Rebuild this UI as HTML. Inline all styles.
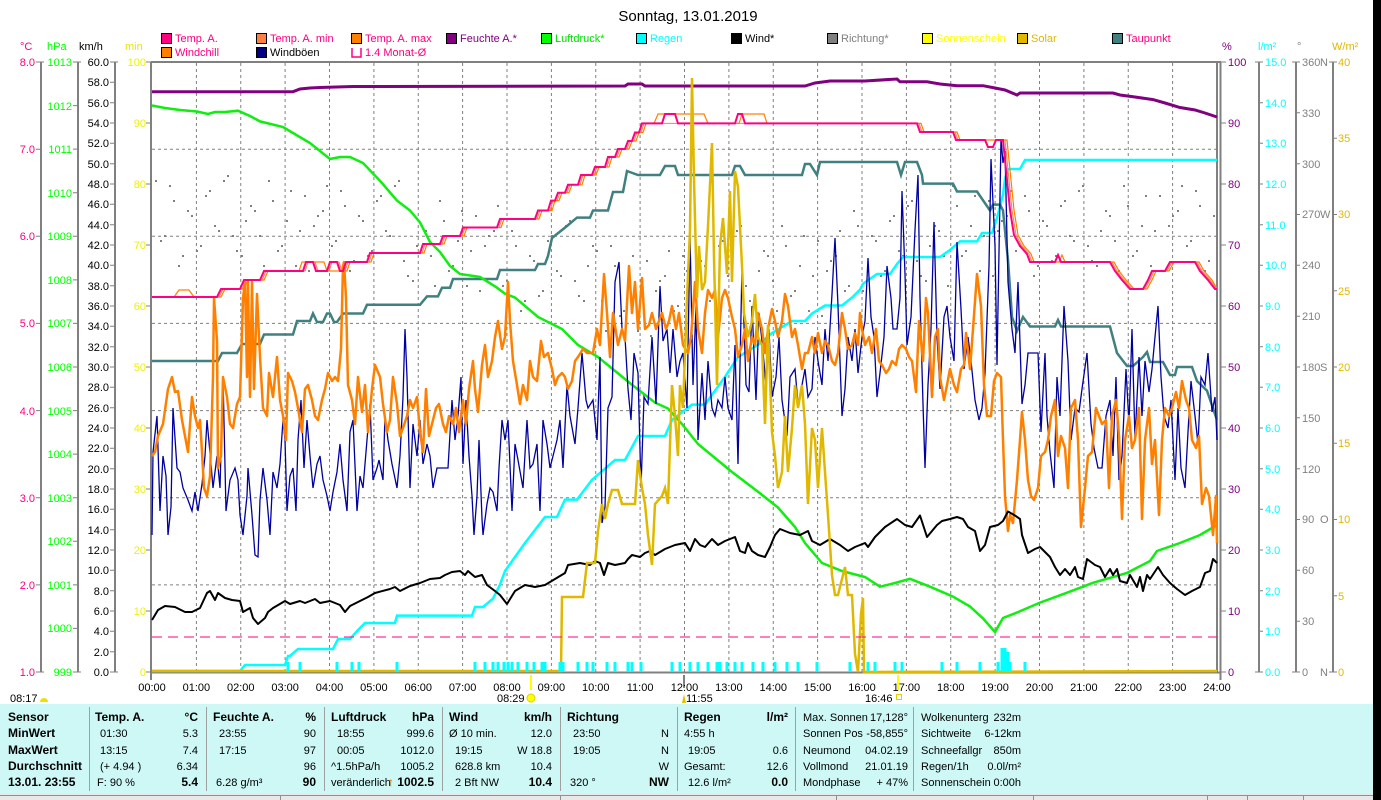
<!DOCTYPE html>
<html><head><meta charset="utf-8"><style>
html,body{margin:0;padding:0;background:#fff;overflow:hidden;}
svg{display:block;font-family:"Liberation Sans",Arial,sans-serif;font-size:11px;}
.b{font-weight:bold;font-size:12px;}
</style></head><body>
<svg width="1381" height="800" viewBox="0 0 1381 800" xmlns="http://www.w3.org/2000/svg">
<rect x="0" y="0" width="1381" height="800" fill="#fff"/>
<rect x="1373" y="0" width="8" height="800" fill="#000"/>

<!-- Title -->
<text x="688" y="21" font-size="15" text-anchor="middle">Sonntag, 13.01.2019</text>

<!-- Legend -->
<g stroke="#000" stroke-width="1">
<rect x="161.5" y="33.5" width="10" height="10" fill="#ff0080"/>
<rect x="256.5" y="33.5" width="10" height="10" fill="#ff8040"/>
<rect x="351.5" y="33.5" width="10" height="10" fill="#ff8000"/>
<rect x="446.5" y="33.5" width="10" height="10" fill="#800080"/>
<rect x="541.5" y="33.5" width="10" height="10" fill="#00ff00"/>
<rect x="636.5" y="33.5" width="10" height="10" fill="#00ffff"/>
<rect x="731.5" y="33.5" width="10" height="10" fill="#000000"/>
<rect x="827.5" y="33.5" width="10" height="10" fill="#808080"/>
<rect x="922.5" y="33.5" width="10" height="10" fill="#ffff00"/>
<rect x="1017.5" y="33.5" width="10" height="10" fill="#e0b800"/>
<rect x="1112.5" y="33.5" width="10" height="10" fill="#408080"/>
<rect x="161.5" y="47.5" width="10" height="10" fill="#ff8000"/>
<rect x="256.5" y="47.5" width="10" height="10" fill="#000080"/>
</g>
<path d="M352,48 V57 H361 V48" fill="none" stroke="#ff0080" stroke-width="1.5"/>
<g font-size="11">
<text x="175" y="42" fill="#ff0080">Temp. A.</text>
<text x="270" y="42" fill="#ff0080">Temp. A. min</text>
<text x="365" y="42" fill="#ff0080">Temp. A. max</text>
<text x="460" y="42" fill="#800080">Feuchte A.*</text>
<text x="555" y="42" fill="#00e000">Luftdruck*</text>
<text x="650" y="42" fill="#00ffff">Regen</text>
<text x="745" y="42" fill="#000">Wind*</text>
<text x="841" y="42" fill="#808080">Richtung*</text>
<text x="936" y="42" fill="#ffff00">Sonnenschein</text>
<text x="1031" y="42" fill="#e0b800">Solar</text>
<text x="1126" y="42" fill="#ff0080">Taupunkt</text>
<text x="175" y="56" fill="#ff0080">Windchill</text>
<text x="270" y="56" fill="#000">Windböen</text>
<text x="365" y="56" fill="#ff0080">1.4 Monat-Ø</text>
</g>

<!-- axis unit headers -->
<text x="20" y="50" fill="#ff0080">°C</text>
<text x="47" y="50" fill="#00ff00">hPa</text>
<text x="79" y="50" fill="#000">km/h</text>
<text x="125" y="50" fill="#e8e800">min</text>
<text x="1222" y="50" fill="#800080">%</text>
<text x="1258" y="50" fill="#00ffff">l/m²</text>
<text x="1297" y="50" fill="#808080">°</text>
<text x="1332" y="50" fill="#e0b800">W/m²</text>

<!-- Axis lines -->
<g stroke="#808080" stroke-width="2" fill="none">
<path d="M41,62 V672 M78,62 V672 M115,62 V672 M1259,62 V672 M1296,62 V672 M1333,62 V672"/>
<path d="M151,62 V680 M151,62 H1221 M1217,62 V672 M1220.5,62 V680 M151,672.5 H1221"/>
</g>

<!-- Ticks -->
<g stroke="#808080" stroke-width="1">
<path d="M36,672H44 M36,584.9H41 M36,497.7H41 M36,410.6H41 M36,323.4H41 M36,236.3H41 M36,149.2H41 M36,62H44"/>
<path d="M73,672H81 M73,628.4H78 M73,584.9H78 M73,541.3H78 M73,497.7H78 M73,454.1H78 M73,410.6H78 M73,367H78 M73,323.4H78 M73,279.9H78 M73,236.3H78 M73,192.7H78 M73,149.1H78 M73,105.6H78 M73,62H81"/>
<path d="M110,672H118 M110,651.7H115 M110,631.3H115 M110,611H115 M110,590.7H115 M110,570.3H115 M110,550H115 M110,529.7H115 M110,509.3H115 M110,489H115 M110,468.7H115 M110,448.3H115 M110,428H115 M110,407.7H115 M110,387.3H115 M110,367H115 M110,346.7H115 M110,326.3H115 M110,306H115 M110,285.7H115 M110,265.3H115 M110,245H115 M110,224.7H115 M110,204.3H115 M110,184H115 M110,163.7H115 M110,143.3H115 M110,123H115 M110,102.7H115 M110,82.3H115 M110,62H118"/>
<path d="M146,672H151 M146,611H151 M146,550H151 M146,489H151 M146,428H151 M146,367H151 M146,306H151 M146,245H151 M146,184H151 M146,123H151 M146,62H151"/>
<path d="M1221,672H1226 M1221,611H1226 M1221,550H1226 M1221,489H1226 M1221,428H1226 M1221,367H1226 M1221,306H1226 M1221,245H1226 M1221,184H1226 M1221,123H1226 M1221,62H1226"/>
<path d="M1255,672H1263 M1259,631.3H1263 M1259,590.7H1263 M1259,550H1263 M1259,509.3H1263 M1259,468.7H1263 M1259,428H1263 M1259,387.3H1263 M1259,346.7H1263 M1259,306H1263 M1259,265.3H1263 M1259,224.7H1263 M1259,184H1263 M1259,143.3H1263 M1259,102.7H1263 M1255,62H1263"/>
<path d="M1292,672H1300 M1296,621.2H1300 M1296,570.3H1300 M1296,519.5H1300 M1296,468.7H1300 M1296,417.8H1300 M1296,367H1300 M1296,316.2H1300 M1296,265.3H1300 M1296,214.5H1300 M1296,163.7H1300 M1296,112.8H1300 M1292,62H1300"/>
<path d="M1329,672H1337 M1333,595.75H1337 M1333,519.5H1337 M1333,443.25H1337 M1333,367H1337 M1333,290.75H1337 M1333,214.5H1337 M1333,138.25H1337 M1329,62H1337"/>
</g>

<!-- Left labels -->
<g fill="#ff0080" text-anchor="end">
<text x="35" y="676">1.0</text><text x="35" y="589">2.0</text><text x="35" y="502">3.0</text><text x="35" y="415">4.0</text><text x="35" y="327">5.0</text><text x="35" y="240">6.0</text><text x="35" y="153">7.0</text><text x="35" y="66">8.0</text>
</g>
<g fill="#00ff00" text-anchor="end">
<text x="72" y="676">999</text><text x="72" y="632">1000</text><text x="72" y="589">1001</text><text x="72" y="545">1002</text><text x="72" y="502">1003</text><text x="72" y="458">1004</text><text x="72" y="415">1005</text><text x="72" y="371">1006</text><text x="72" y="327">1007</text><text x="72" y="284">1008</text><text x="72" y="240">1009</text><text x="72" y="197">1010</text><text x="72" y="153">1011</text><text x="72" y="110">1012</text><text x="72" y="66">1013</text>
</g>
<g fill="#000" text-anchor="end">
<text x="109" y="676">0.0</text><text x="109" y="656">2.0</text><text x="109" y="635">4.0</text><text x="109" y="615">6.0</text><text x="109" y="595">8.0</text><text x="109" y="574">10.0</text><text x="109" y="554">12.0</text><text x="109" y="534">14.0</text><text x="109" y="513">16.0</text><text x="109" y="493">18.0</text><text x="109" y="473">20.0</text><text x="109" y="452">22.0</text><text x="109" y="432">24.0</text><text x="109" y="412">26.0</text><text x="109" y="391">28.0</text><text x="109" y="371">30.0</text><text x="109" y="351">32.0</text><text x="109" y="330">34.0</text><text x="109" y="310">36.0</text><text x="109" y="290">38.0</text><text x="109" y="269">40.0</text><text x="109" y="249">42.0</text><text x="109" y="229">44.0</text><text x="109" y="208">46.0</text><text x="109" y="188">48.0</text><text x="109" y="168">50.0</text><text x="109" y="147">52.0</text><text x="109" y="127">54.0</text><text x="109" y="107">56.0</text><text x="109" y="86">58.0</text><text x="109" y="66">60.0</text>
</g>
<g fill="#f0f000" text-anchor="end">
<text x="146" y="676">0</text><text x="146" y="615">10</text><text x="146" y="554">20</text><text x="146" y="493">30</text><text x="146" y="432">40</text><text x="146" y="371">50</text><text x="146" y="310">60</text><text x="146" y="249">70</text><text x="146" y="188">80</text><text x="146" y="127">90</text><text x="146" y="66">100</text>
</g>

<!-- Right labels -->
<g fill="#800080">
<text x="1228" y="676">0</text><text x="1228" y="615">10</text><text x="1228" y="554">20</text><text x="1228" y="493">30</text><text x="1228" y="432">40</text><text x="1228" y="371">50</text><text x="1228" y="310">60</text><text x="1228" y="249">70</text><text x="1228" y="188">80</text><text x="1228" y="127">90</text><text x="1228" y="66">100</text>
</g>
<g fill="#00ffff">
<text x="1265" y="676">0.0</text><text x="1265" y="635">1.0</text><text x="1265" y="595">2.0</text><text x="1265" y="554">3.0</text><text x="1265" y="513">4.0</text><text x="1265" y="473">5.0</text><text x="1265" y="432">6.0</text><text x="1265" y="391">7.0</text><text x="1265" y="351">8.0</text><text x="1265" y="310">9.0</text><text x="1265" y="269">10.0</text><text x="1265" y="229">11.0</text><text x="1265" y="188">12.0</text><text x="1265" y="147">13.0</text><text x="1265" y="107">14.0</text><text x="1265" y="66">15.0</text>
</g>
<g fill="#808080">
<text x="1302" y="676">0</text><text x="1302" y="625">30</text><text x="1302" y="574">60</text><text x="1302" y="523">90</text><text x="1302" y="473">120</text><text x="1302" y="422">150</text><text x="1302" y="371">180</text><text x="1302" y="320">210</text><text x="1302" y="269">240</text><text x="1302" y="218">270</text><text x="1302" y="168">300</text><text x="1302" y="117">330</text><text x="1302" y="66">360</text>
<text x="1320" y="676">N</text><text x="1320" y="523">O</text><text x="1320" y="371">S</text><text x="1320" y="218">W</text><text x="1320" y="66">N</text>
</g>
<g fill="#e0b800">
<text x="1338" y="676">0</text><text x="1338" y="600">5</text><text x="1338" y="523">10</text><text x="1338" y="447">15</text><text x="1338" y="371">20</text><text x="1338" y="295">25</text><text x="1338" y="218">30</text><text x="1338" y="142">35</text><text x="1338" y="66">40</text>
</g>

<!-- Grid -->
<g stroke="#808080" stroke-width="1" stroke-dasharray="3,3" fill="none">
<path d="M196.4,63V672 M240.75,63V672 M285.1,63V672 M329.5,63V672 M373.9,63V672 M418.25,63V672 M462.6,63V672 M507,63V672 M551.4,63V672 M595.75,63V672 M640.1,63V672 M684.5,63V672 M728.9,63V672 M773.25,63V672 M817.6,63V672 M862,63V672 M906.4,63V672 M950.75,63V672 M995.1,63V672 M1039.5,63V672 M1083.9,63V672 M1128.25,63V672 M1172.6,63V672"/>
<path d="M152,149.2H1217 M152,236.3H1217 M152,323.4H1217 M152,410.6H1217 M152,497.7H1217 M152,584.9H1217"/>
</g>

<!-- Direction dots -->
<g fill="#808080">
<rect x="155" y="180" width="2" height="2"/><rect x="164" y="235" width="2" height="2"/><rect x="173" y="200" width="2" height="2"/><rect x="182" y="255" width="2" height="2"/><rect x="191" y="215" width="2" height="2"/><rect x="200" y="245" width="2" height="2"/><rect x="209" y="190" width="2" height="2"/><rect x="218" y="230" width="2" height="2"/><rect x="227" y="175" width="2" height="2"/><rect x="236" y="250" width="2" height="2"/><rect x="245" y="220" width="2" height="2"/><rect x="254" y="210" width="2" height="2"/><rect x="263" y="265" width="2" height="2"/><rect x="272" y="200" width="2" height="2"/><rect x="281" y="245" width="2" height="2"/><rect x="290" y="190" width="2" height="2"/><rect x="299" y="230" width="2" height="2"/><rect x="308" y="270" width="2" height="2"/><rect x="317" y="215" width="2" height="2"/><rect x="326" y="185" width="2" height="2"/><rect x="335" y="240" width="2" height="2"/><rect x="344" y="205" width="2" height="2"/><rect x="353" y="260" width="2" height="2"/><rect x="362" y="220" width="2" height="2"/><rect x="371" y="250" width="2" height="2"/><rect x="380" y="195" width="2" height="2"/><rect x="389" y="235" width="2" height="2"/><rect x="398" y="180" width="2" height="2"/><rect x="407" y="275" width="2" height="2"/><rect x="416" y="245" width="2" height="2"/><rect x="425" y="230" width="2" height="2"/><rect x="434" y="285" width="2" height="2"/><rect x="443" y="220" width="2" height="2"/><rect x="452" y="265" width="2" height="2"/><rect x="461" y="210" width="2" height="2"/><rect x="470" y="250" width="2" height="2"/><rect x="479" y="290" width="2" height="2"/><rect x="488" y="235" width="2" height="2"/><rect x="497" y="205" width="2" height="2"/><rect x="506" y="280" width="2" height="2"/><rect x="515" y="245" width="2" height="2"/><rect x="524" y="300" width="2" height="2"/><rect x="533" y="260" width="2" height="2"/><rect x="542" y="290" width="2" height="2"/><rect x="551" y="235" width="2" height="2"/><rect x="560" y="275" width="2" height="2"/><rect x="569" y="220" width="2" height="2"/><rect x="578" y="295" width="2" height="2"/><rect x="587" y="265" width="2" height="2"/><rect x="596" y="250" width="2" height="2"/><rect x="605" y="330" width="2" height="2"/><rect x="614" y="265" width="2" height="2"/><rect x="623" y="310" width="2" height="2"/><rect x="632" y="255" width="2" height="2"/><rect x="641" y="295" width="2" height="2"/><rect x="650" y="335" width="2" height="2"/><rect x="659" y="280" width="2" height="2"/><rect x="668" y="250" width="2" height="2"/><rect x="677" y="305" width="2" height="2"/><rect x="686" y="270" width="2" height="2"/><rect x="695" y="325" width="2" height="2"/><rect x="704" y="265" width="2" height="2"/><rect x="713" y="295" width="2" height="2"/><rect x="722" y="240" width="2" height="2"/><rect x="731" y="280" width="2" height="2"/><rect x="740" y="225" width="2" height="2"/><rect x="749" y="300" width="2" height="2"/><rect x="758" y="270" width="2" height="2"/><rect x="767" y="255" width="2" height="2"/><rect x="776" y="310" width="2" height="2"/><rect x="785" y="245" width="2" height="2"/><rect x="794" y="290" width="2" height="2"/><rect x="803" y="235" width="2" height="2"/><rect x="812" y="275" width="2" height="2"/><rect x="821" y="315" width="2" height="2"/><rect x="830" y="260" width="2" height="2"/><rect x="839" y="230" width="2" height="2"/><rect x="848" y="285" width="2" height="2"/><rect x="857" y="225" width="2" height="2"/><rect x="866" y="280" width="2" height="2"/><rect x="875" y="240" width="2" height="2"/><rect x="884" y="270" width="2" height="2"/><rect x="893" y="215" width="2" height="2"/><rect x="902" y="255" width="2" height="2"/><rect x="911" y="200" width="2" height="2"/><rect x="920" y="275" width="2" height="2"/><rect x="929" y="245" width="2" height="2"/><rect x="938" y="230" width="2" height="2"/><rect x="947" y="285" width="2" height="2"/><rect x="956" y="205" width="2" height="2"/><rect x="965" y="250" width="2" height="2"/><rect x="974" y="195" width="2" height="2"/><rect x="983" y="235" width="2" height="2"/><rect x="992" y="275" width="2" height="2"/><rect x="1001" y="220" width="2" height="2"/><rect x="1010" y="190" width="2" height="2"/><rect x="1019" y="245" width="2" height="2"/><rect x="1028" y="210" width="2" height="2"/><rect x="1037" y="265" width="2" height="2"/><rect x="1046" y="225" width="2" height="2"/><rect x="1055" y="255" width="2" height="2"/><rect x="1064" y="200" width="2" height="2"/><rect x="1073" y="240" width="2" height="2"/><rect x="1082" y="185" width="2" height="2"/><rect x="1091" y="260" width="2" height="2"/><rect x="1100" y="230" width="2" height="2"/><rect x="1109" y="215" width="2" height="2"/><rect x="1118" y="270" width="2" height="2"/><rect x="1127" y="205" width="2" height="2"/><rect x="1136" y="250" width="2" height="2"/><rect x="1145" y="195" width="2" height="2"/><rect x="1154" y="230" width="2" height="2"/><rect x="1163" y="270" width="2" height="2"/><rect x="1172" y="215" width="2" height="2"/><rect x="1181" y="185" width="2" height="2"/><rect x="1190" y="240" width="2" height="2"/><rect x="1199" y="205" width="2" height="2"/><rect x="1208" y="260" width="2" height="2"/>
<rect x="160" y="240" width="2" height="2"/><rect x="169" y="185" width="2" height="2"/><rect x="178" y="265" width="2" height="2"/><rect x="187" y="210" width="2" height="2"/><rect x="196" y="250" width="2" height="2"/><rect x="205" y="195" width="2" height="2"/><rect x="214" y="225" width="2" height="2"/><rect x="223" y="180" width="2" height="2"/><rect x="232" y="235" width="2" height="2"/><rect x="241" y="255" width="2" height="2"/><rect x="250" y="205" width="2" height="2"/><rect x="259" y="235" width="2" height="2"/><rect x="268" y="180" width="2" height="2"/><rect x="277" y="250" width="2" height="2"/><rect x="286" y="220" width="2" height="2"/><rect x="295" y="265" width="2" height="2"/><rect x="304" y="195" width="2" height="2"/><rect x="313" y="225" width="2" height="2"/><rect x="322" y="210" width="2" height="2"/><rect x="331" y="245" width="2" height="2"/><rect x="340" y="190" width="2" height="2"/><rect x="349" y="270" width="2" height="2"/><rect x="358" y="215" width="2" height="2"/><rect x="367" y="255" width="2" height="2"/><rect x="376" y="200" width="2" height="2"/><rect x="385" y="230" width="2" height="2"/><rect x="394" y="185" width="2" height="2"/><rect x="403" y="260" width="2" height="2"/><rect x="412" y="280" width="2" height="2"/><rect x="421" y="225" width="2" height="2"/><rect x="430" y="255" width="2" height="2"/><rect x="439" y="200" width="2" height="2"/><rect x="448" y="270" width="2" height="2"/><rect x="457" y="240" width="2" height="2"/><rect x="466" y="285" width="2" height="2"/><rect x="475" y="215" width="2" height="2"/><rect x="484" y="245" width="2" height="2"/><rect x="493" y="230" width="2" height="2"/><rect x="502" y="285" width="2" height="2"/><rect x="511" y="230" width="2" height="2"/><rect x="520" y="310" width="2" height="2"/><rect x="529" y="255" width="2" height="2"/><rect x="538" y="295" width="2" height="2"/><rect x="547" y="240" width="2" height="2"/><rect x="556" y="270" width="2" height="2"/><rect x="565" y="225" width="2" height="2"/><rect x="574" y="280" width="2" height="2"/><rect x="583" y="300" width="2" height="2"/><rect x="592" y="245" width="2" height="2"/><rect x="601" y="300" width="2" height="2"/><rect x="610" y="245" width="2" height="2"/><rect x="619" y="315" width="2" height="2"/><rect x="628" y="285" width="2" height="2"/><rect x="637" y="330" width="2" height="2"/><rect x="646" y="260" width="2" height="2"/><rect x="655" y="290" width="2" height="2"/><rect x="664" y="275" width="2" height="2"/><rect x="673" y="310" width="2" height="2"/><rect x="682" y="255" width="2" height="2"/><rect x="691" y="335" width="2" height="2"/><rect x="700" y="260" width="2" height="2"/><rect x="709" y="300" width="2" height="2"/><rect x="718" y="245" width="2" height="2"/><rect x="727" y="275" width="2" height="2"/><rect x="736" y="230" width="2" height="2"/><rect x="745" y="285" width="2" height="2"/><rect x="754" y="305" width="2" height="2"/><rect x="763" y="250" width="2" height="2"/><rect x="772" y="280" width="2" height="2"/><rect x="781" y="225" width="2" height="2"/><rect x="790" y="295" width="2" height="2"/><rect x="799" y="265" width="2" height="2"/><rect x="808" y="310" width="2" height="2"/><rect x="817" y="240" width="2" height="2"/><rect x="826" y="270" width="2" height="2"/><rect x="835" y="255" width="2" height="2"/><rect x="844" y="290" width="2" height="2"/><rect x="853" y="210" width="2" height="2"/><rect x="862" y="290" width="2" height="2"/><rect x="871" y="235" width="2" height="2"/><rect x="880" y="275" width="2" height="2"/><rect x="889" y="220" width="2" height="2"/><rect x="898" y="250" width="2" height="2"/><rect x="907" y="205" width="2" height="2"/><rect x="916" y="260" width="2" height="2"/><rect x="925" y="280" width="2" height="2"/><rect x="934" y="225" width="2" height="2"/><rect x="943" y="255" width="2" height="2"/><rect x="952" y="185" width="2" height="2"/><rect x="961" y="255" width="2" height="2"/><rect x="970" y="225" width="2" height="2"/><rect x="979" y="270" width="2" height="2"/><rect x="988" y="200" width="2" height="2"/><rect x="997" y="230" width="2" height="2"/><rect x="1006" y="215" width="2" height="2"/><rect x="1015" y="250" width="2" height="2"/><rect x="1024" y="195" width="2" height="2"/><rect x="1033" y="275" width="2" height="2"/><rect x="1042" y="220" width="2" height="2"/><rect x="1051" y="260" width="2" height="2"/><rect x="1060" y="205" width="2" height="2"/><rect x="1069" y="235" width="2" height="2"/><rect x="1078" y="190" width="2" height="2"/><rect x="1087" y="245" width="2" height="2"/><rect x="1096" y="265" width="2" height="2"/><rect x="1105" y="210" width="2" height="2"/><rect x="1114" y="240" width="2" height="2"/><rect x="1123" y="185" width="2" height="2"/><rect x="1132" y="255" width="2" height="2"/><rect x="1141" y="225" width="2" height="2"/><rect x="1150" y="265" width="2" height="2"/><rect x="1159" y="195" width="2" height="2"/><rect x="1168" y="225" width="2" height="2"/><rect x="1177" y="210" width="2" height="2"/><rect x="1186" y="245" width="2" height="2"/><rect x="1195" y="190" width="2" height="2"/><rect x="1204" y="270" width="2" height="2"/><rect x="1213" y="215" width="2" height="2"/>
</g>

<!-- Humidity -->
<polyline fill="none" stroke="#800080" stroke-width="3" points="152,91.7 293,91.7 300,89 310,88 320,87.5 353,86.5 625,86 628,84 642,84 645,86 805,86 815,83 830,81 865,81 897,79 900,81.8 927,81.8 940,84 957,85.7 983,85.7 995,88 1005,90 1017,95 1020,93 1030,93 1113,93 1120,95 1135,97 1153,99.6 1165,103 1180,107.5 1195,110 1205,113 1217,117"/>

<!-- Rain cumulative -->
<polyline fill="none" stroke="#00ffff" stroke-width="2.5" points="152,671 240,671 245,665 285,665 288,656 290,656 298,649 333,649 338,639 350,639 358,630 365,623 395,623 397,615.6 472,615.6 475,607 483,607 493,598.6 500,584.7 505,571 525,543 545,517 557,517 565,499.6 577,499.6 592,479.8 615,460 625,460 638,436 665,436 672,420 692,404.6 705,404.6 725,376.8 738,357 758,345 772,333 792,321 805,321 812,313.5 825,305.5 842,305.5 852,297.6 860,289.7 863,283.8 877,274 890,274 897,264 903,257 940,257 950,250 960,241.4 977,241.4 982,233 992,233 997,218 1003,194.6 1005,178.8 1008,169 1020,169 1025,160 1217,160"/>

<!-- Dewpoint -->
<polyline fill="none" stroke="#408080" stroke-width="2.5" points="152,361 218,361 222,353 237,353 242,344 260,344 264,334.5 293,334.5 297,321 310,321 313,313.5 317,322 323,322 327,313.5 330,313.5 334,322 337,322 343,313.5 363,313.5 367,304.8 420,304.8 427,296.4 438,296.4 442,287.7 450,287.7 453,279 497,279 500,270 535,270 538,264 545,264 548,256 552,238 567,226 577,217.6 590,217.6 593,210.5 608,210.5 613,192 623,192 627,171 638,175 660,175 665,166 675,166 678,175 732,175 735,166 740,166 745,175 802,175 805,164 810,164 817,175 820,162 897,162 901,175 905,162 917,162 922,175 923,183.6 953,183.6 957,191.5 977,191.5 990,210.5 993,204.6 1000,204.6 1003,210.5 1008,260 1012,317 1017,331 1023,317 1030,326.5 1055,326.5 1058,320 1061,326.5 1110,326.5 1117,353 1127,366 1133,366 1143,357 1147,352 1150,362 1163,362 1170,375 1175,375 1177,367 1192,367 1197,381 1207,390.7 1217,420"/>

<!-- Pressure -->
<polyline fill="none" stroke="#10ee10" stroke-width="2.5" points="152,105.5 165,108 180,110 197,111.5 208,114 215,112 225,112 238,110.7 250,116 260,121.4 283,127 293,133 310,143 330,159 340,157 350,157 363,163 380,180.8 397,200.6 410,210.5 420,222.4 430,242 440,252 450,266 460,274 480,277 497,287.7 505,293.7 515,297.6 538,317 562,329 578,345 598,357 632,384.8 655,402.6 668,408.5 682,424 698,444 732,472 758,491.7 778,507.5 795,527 805,543 822,563 842,571 865,577 880,586.7 895,583 910,578.8 930,586.7 953,596.6 970,606.5 983,618.4 995,632 1003,618 1017,612.5 1040,602.6 1067,592.7 1093,582.8 1127,572.9 1150,561 1157,551 1180,543 1200,535 1217,525"/>

<!-- Gusts -->
<polyline fill="none" stroke="#0000a0" stroke-width="1.3" points="152,535 153,452 157,416 160,511 163,456 166,476 168,535 171,507 173,408 177,468 180,472 183,488 188,500 192,511 195,492 198,511 202,484 205,456 207,420 211,464 213,488 217,456 220,488 223,377 226,511 230,480 235,468 238,480 240,515 243,535 247,496 248,468 252,515 255,555 258,557 260,500 263,468 267,500 270,535 273,472 277,488 280,464 283,420 285,440 287,511 290,476 293,468 296,511 298,440 301,400 304,468 307,420 310,456 313,488 317,464 320,456 323,480 327,496 330,511 333,492 337,472 340,444 343,480 347,511 350,432 353,420 357,511 360,476 363,488 367,440 370,404 373,480 377,468 379,460 383,480 385,416 388,440 392,464 397,488 400,456 403,397 405,329 407,377 410,488 413,424 417,456 420,420 423,464 427,444 430,456 433,488 437,468 443,468 448,468 452,400 455,440 458,416 461,377 463,464 466,400 469,456 472,496 474,535 477,496 479,440 482,519 483,535 487,504 490,488 493,492 497,511 499,468 502,420 505,440 508,420 512,511 515,444 518,460 523,488 527,420 530,468 533,464 537,444 540,511 543,420 547,444 550,468 553,456 557,440 560,420 563,468 567,385 570,416 575,444 578,408 582,353 586,400 588,408 593,400 597,440 600,357 602,523 605,507 608,408 612,397 615,282 619,262 622,329 625,337 628,389 631,420 634,353 638,373 641,488 644,397 648,404 652,337 656,404 660,286 663,341 667,329 670,373 673,329 677,377 680,361 683,353 687,408 690,234 693,385 696,306 698,440 702,373 705,420 708,361 712,408 715,416 718,400 722,408 725,377 728,408 732,420 735,345 738,464 742,266 746,385 749,392 752,306 756,400 759,313 762,341 766,385 769,329 772,397 776,377 779,337 782,400 787,436 790,377 795,369 798,404 802,385 805,369 808,397 812,389 815,337 818,361 822,385 825,329 828,361 832,294 835,238 838,306 842,416 845,389 848,337 852,361 855,329 858,373 862,337 865,321 868,258 871,317 874,337 877,397 880,373 884,337 887,266 891,298 893,329 897,329 900,298 902,191 905,274 907,345 911,317 915,230 918,175 920,298 923,404 925,468 928,385 931,329 934,222 937,337 940,389 944,317 947,306 950,337 954,361 957,242 961,309 964,369 968,337 971,361 975,400 979,420 982,408 985,373 989,266 991,159 995,246 997,365 1001,139 1003,163 1005,151 1008,282 1012,329 1015,353 1018,282 1022,404 1025,385 1028,353 1032,353 1038,353 1041,432 1045,353 1047,416 1050,452 1054,488 1057,377 1060,416 1064,306 1068,361 1071,440 1075,408 1079,412 1082,389 1087,353 1091,424 1094,448 1098,468 1102,468 1106,416 1110,400 1113,456 1116,377 1119,480 1122,456 1126,369 1129,424 1132,329 1135,440 1139,357 1142,416 1145,361 1149,392 1152,369 1155,337 1158,306 1161,377 1164,416 1168,428 1171,400 1175,480 1178,408 1181,468 1185,488 1188,432 1191,381 1195,416 1198,444 1201,377 1205,385 1208,353 1212,412 1215,397 1217,440"/>

<!-- Windchill -->
<polyline fill="none" stroke="#ff8000" stroke-width="2.5" stroke-linejoin="round" points="152,456 155,452 158,436 163,424 168,389 172,377 175,392 178,391 182,420 185,436 188,452 192,397 195,416 198,428 200,420 202,452 204,488 207,496 210,476 213,377 214,298 217,341 218,468 221,456 223,377 227,397 230,424 233,428 237,404 240,397 243,298 245,282 247,377 248,282 250,397 252,282 254,389 257,294 260,357 263,408 267,416 269,373 273,397 277,357 280,400 283,416 286,440 288,373 292,381 295,392 298,408 302,432 305,389 308,385 312,400 315,416 318,420 322,400 325,389 328,373 332,381 335,377 338,381 341,349 343,266 344,262 346,298 348,385 352,400 355,424 358,377 362,412 365,385 368,432 372,389 375,365 380,377 383,404 387,432 390,420 393,377 397,404 400,436 403,428 407,416 410,400 413,408 417,397 420,432 423,452 426,389 429,436 433,420 436,408 439,404 443,424 446,432 449,416 453,424 456,408 459,432 463,400 466,424 469,389 473,361 475,389 478,412 482,365 485,345 488,377 492,361 495,337 498,321 502,349 505,337 508,282 510,321 513,361 517,385 520,404 523,385 527,400 530,361 533,377 537,381 541,341 544,357 548,353 552,369 555,385 558,377 562,373 565,377 568,389 572,381 575,361 578,357 583,349 587,353 590,353 593,353 597,329 600,345 604,274 607,313 610,357 613,313 618,345 622,329 625,341 629,266 632,313 635,282 638,329 642,278 645,329 649,325 652,313 656,329 659,321 662,313 666,329 669,321 672,306 676,329 679,313 683,345 688,353 691,337 695,282 698,329 702,353 705,313 708,290 712,298 715,290 718,337 722,298 725,290 728,298 732,317 735,329 738,357 742,345 745,329 748,361 752,337 755,345 758,313 762,329 765,353 768,329 772,309 775,321 778,337 782,321 785,294 788,306 792,337 795,329 798,345 802,369 805,353 808,353 812,337 815,353 818,333 822,353 825,341 828,345 832,361 835,365 838,353 842,313 845,329 848,349 852,345 855,333 858,345 860,313 862,329 865,345 869,337 872,353 876,329 879,361 882,365 886,373 889,369 892,361 896,365 899,349 902,345 906,349 909,357 912,361 916,392 919,321 923,361 926,298 928,313 932,397 935,337 938,329 940,377 944,400 947,385 950,369 954,385 957,392 961,369 964,365 966,333 970,369 973,329 977,274 981,306 984,385 987,416 991,416 994,381 997,373 1001,377 1003,440 1005,496 1008,531 1010,515 1013,523 1017,480 1020,440 1022,412 1025,440 1028,480 1031,496 1034,500 1038,488 1041,456 1045,452 1048,440 1051,416 1055,400 1058,456 1061,436 1065,448 1068,488 1071,408 1075,400 1078,440 1081,527 1085,488 1088,456 1092,452 1096,408 1099,416 1102,424 1106,420 1109,488 1112,416 1116,400 1119,436 1122,519 1125,440 1129,416 1132,448 1135,440 1139,408 1142,519 1145,440 1149,408 1152,464 1155,440 1159,515 1162,440 1165,408 1169,416 1172,408 1176,392 1179,408 1182,381 1186,400 1189,408 1192,440 1196,448 1199,436 1202,504 1206,488 1209,496 1213,535 1216,496 1217,543"/>

<!-- Temperature lines -->
<g fill="none">
<polyline stroke="#ff8040" stroke-width="1" transform="translate(2,0)" points="152,297 217,297 221,289 240,289 244,280 260,280 264,271 303,271 306,262 313,262 316,271 327,271 330,262 337,262 340,271 343,271 346,262 367,262 370,253 420,253 423,244 440,244 443,236 460,236 463,227.5 497,227.5 500,219 535,219 538,210.5 548,210.5 551,200.6 555,200.6 558,192.7 565,192.7 568,184.8 578,184.8 581,175 592,175 595,167 605,167 608,157 615,157 618,149 625,149 628,141 632,141 635,132.5 639,132.5 642,123.4 917,123.4 920,132 953,132 956,140 1003,140 1006,170 1010,210 1014,235 1020,246 1027,254 1030,262 1110,262 1115,271 1122,280 1130,289 1143,289 1148,280 1152,271 1165,271 1170,262 1195,262 1200,271 1208,280 1215,289"/>
<polyline stroke="#ff8000" stroke-width="1.2" transform="translate(4,0)" points="152,297 170,297 175,290 185,290 190,297 217,297 221,289 240,289 244,280 260,280 264,271 295,271 298,262 320,262 323,271 343,271 346,262 367,262 370,253 420,253 423,244 440,244 443,236 460,236 463,227.5 497,227.5 500,219 535,219 538,210.5 548,210.5 551,200.6 555,200.6 558,192.7 565,192.7 568,184.8 578,184.8 581,175 592,175 595,167 605,167 608,157 615,157 618,149 625,149 628,141 632,141 635,132.5 639,132.5 642,123.4 650,123.4 654,114 700,114 704,123.4 735,123.4 738,114 760,114 763,123.4 917,123.4 920,132 953,132 956,140 1003,140 1006,170 1010,210 1014,235 1020,246 1027,254 1030,262 1055,262 1058,255 1061,262 1110,262 1115,271 1122,280 1130,289 1143,289 1148,280 1152,271 1165,271 1170,262 1195,262 1200,271 1208,280 1213,289"/>
<polyline stroke="#ff0080" stroke-width="2" points="152,297 217,297 221,289 240,289 244,280 260,280 264,271 303,271 306,262 313,262 316,271 327,271 330,262 337,262 340,271 343,271 346,262 367,262 370,253 420,253 423,244 440,244 443,236 460,236 463,227.5 497,227.5 500,219 535,219 538,210.5 548,210.5 551,200.6 555,200.6 558,192.7 565,192.7 568,184.8 578,184.8 581,175 592,175 595,167 605,167 608,157 615,157 618,149 625,149 628,141 632,141 635,132.5 639,132.5 642,123.4 662,123.4 665,114 675,114 678,123.4 735,123.4 738,114 742,114 745,123.4 917,123.4 920,132 953,132 956,140 985,140 988,147 993,147 996,140 1003,140 1006,170 1010,210 1014,235 1020,246 1027,254 1030,262 1055,262 1058,255 1061,262 1110,262 1115,271 1122,280 1130,289 1143,289 1148,280 1152,271 1165,271 1170,262 1195,262 1200,271 1208,280 1215,289 1217,289"/>
</g>

<!-- Wind -->
<polyline fill="none" stroke="#000" stroke-width="2" stroke-linejoin="round" points="152,620 158,610 165,606 175,607 185,612 192,612 200,608 207,593 210,591 215,600 218,593 225,598 232,600 240,601 243,612 250,608 253,618 258,624 265,618 268,612 273,608 285,601 290,604 300,601 305,603 315,599 320,603 330,601 340,605 345,612 350,606 360,601 368,597 375,593 390,589 395,587 400,591 410,586 420,583 430,579 440,578 445,575 452,572 460,571 465,575 468,571 475,577 482,575 487,585 495,591 500,595 507,604 515,591 525,585 535,587 545,585 555,579 565,573 568,565 580,563 590,565 595,561 600,563 604,575 608,563 615,565 625,563 628,559 632,555 640,557 645,553 650,551 655,555 665,549 675,545 685,543 690,551 695,539 700,545 705,547 712,539 718,545 725,541 735,537 740,551 745,553 748,543 752,551 758,555 765,557 770,547 775,535 780,529 790,533 800,535 808,531 812,541 820,545 830,539 840,545 848,551 855,547 865,543 868,547 875,537 885,527 897,519 905,525 912,527 920,515.5 927,537 937,525 942,521 950,519 957,517 963,519 968,527 975,531 980,551 985,545 990,527 998,525 1003,521 1008,511.5 1015,515.5 1020,519 1022,535 1028,553 1035,549 1040,547 1050,557 1055,567 1060,575 1065,569 1070,575 1075,567 1078,577 1083,579 1087,559 1095,565 1100,567 1105,577 1110,569 1113,575 1117,569 1120,581 1127,583 1130,575 1137,587 1140,577 1143,591 1147,575 1150,579 1158,567 1163,575 1170,583 1177,589 1185,595 1192,591 1200,587 1205,573 1210,571 1213,559 1217,563"/>

<!-- Solar -->
<polyline fill="none" stroke="#e0b800" stroke-width="2.5" points="152,671 561,671 562,597 583,597 587,563 595,563 598,531 602,504 605,519 608,504 612,490 618,490 622,504 635,504 638,460 642,488 645,504 648,535 652,565 655,504 662,496 665,488 668,504 672,385 675,416 678,456 680,385 683,408 687,298 690,230 692,78 694,179 697,298 699,246 702,290 705,282 708,226 712,143 714,258 717,385 720,246 723,218 727,274 730,191 732,282 735,171 738,187 742,266 744,313 748,337 752,321 755,294 758,337 762,345 765,424 768,325 772,432 775,456 778,488 782,472 785,416 788,472 792,428 795,385 798,408 802,385 805,424 808,504 812,428 815,440 818,488 822,428 825,472 828,515 832,575 835,595 838,595 842,579 845,567 848,595 852,595 855,654 858,672 861,614 863,598 864,672 1217,671"/>

<!-- Rain bars -->
<g stroke="#00ffff" stroke-width="3">
<path d="M288,662v10 M300,662v10 M337,662v10 M352,662v10 M359,662v10 M397,662v10 M475,662v10 M485,662v10 M493,662v10 M498,662v10 M504,662v10 M508,662v10 M512,662v10 M518,662v10 M527,662v10 M534,662v10 M542,662v10 M545,662v10 M560,662v10 M563,662v10 M578,662v10 M587,662v10 M593,662v10 M607,662v10 M615,662v10 M628,662v10 M632,662v10 M641,662v10 M672,662v10 M680,662v10 M690,662v10 M698,662v10 M708,662v10 M717,662v10 M720,662v10 M727,662v10 M735,662v10 M742,662v10 M753,662v10 M763,662v10 M775,662v10 M787,662v10 M798,662v10 M817,662v10 M850,662v10 M868,662v10 M875,662v10 M895,662v10 M902,662v10 M942,662v10 M957,662v10 M980,662v10 M998,662v10 M1010,662v10 M1025,662v10 M1002,648v24 M1005,648v24 M1008,652v20"/>
</g>

<!-- 1.4 Monat-Ø dashed -->
<path d="M152,637H1217" stroke="#ff0080" stroke-width="1" stroke-dasharray="10,6"/>

<!-- markers below axis -->
<path d="M531,675V690 M898,675V690" stroke="#ffff00" stroke-width="2"/>
<path d="M684,675V688" stroke="#808080" stroke-width="2"/>

<!-- Hour labels -->
<g text-anchor="middle" fill="#000">
<text x="152" y="691">00:00</text><text x="196.4" y="691">01:00</text><text x="240.75" y="691">02:00</text><text x="285.1" y="691">03:00</text><text x="329.5" y="691">04:00</text><text x="373.9" y="691">05:00</text><text x="418.25" y="691">06:00</text><text x="462.6" y="691">07:00</text><text x="507" y="691">08:00</text><text x="551.4" y="691">09:00</text><text x="595.75" y="691">10:00</text><text x="640.1" y="691">11:00</text><text x="684.5" y="691">12:00</text><text x="728.9" y="691">13:00</text><text x="773.25" y="691">14:00</text><text x="817.6" y="691">15:00</text><text x="862" y="691">16:00</text><text x="906.4" y="691">17:00</text><text x="950.75" y="691">18:00</text><text x="995.1" y="691">19:00</text><text x="1039.5" y="691">20:00</text><text x="1083.9" y="691">21:00</text><text x="1128.25" y="691">22:00</text><text x="1172.6" y="691">23:00</text><text x="1217" y="691">24:00</text>
</g>

<!-- Sun times -->
<text x="10" y="702">08:17</text>
<path d="M40,702 A4,4 0 0 1 48,702 Z" fill="#f0e000"/>
<text x="497" y="702">08:29</text>
<circle cx="531" cy="698" r="4" fill="#ffff00" stroke="#e0d000" stroke-width="1"/>
<text x="686" y="702">11:55</text>
<path d="M682,703 L684,694 L686,703 Z" fill="#e0c000"/>
<text x="865" y="702">16:46</text>
<rect x="896.5" y="694.5" width="5" height="5" fill="none" stroke="#e0d000" stroke-width="1"/>

<!-- Table panel -->
<rect x="0" y="704" width="1373" height="90" fill="#cdf8f6"/>
<g stroke="#a0a0a0" stroke-width="1">
<path d="M89.5,707V791 M206.5,707V791 M324.5,707V791 M442.5,707V791 M560.5,707V791 M677.5,707V791 M795.5,707V791 M913.5,707V791"/>
</g>
<rect x="0" y="794" width="1373" height="6" fill="#e8e8e8"/>
<path d="M0,795.5H1373" stroke="#909090" stroke-width="1"/>
<path d="M280.5,796V800 M560.5,796V800 M836.5,796V800 M1033.5,796V800 M1207.5,796V800 M1247.5,796V800 M1303.5,796V800" stroke="#909090" stroke-width="1"/>

<g fill="#000">
<text class="b" x="8" y="721">Sensor</text>
<text class="b" x="8" y="737">MinWert</text>
<text class="b" x="8" y="754">MaxWert</text>
<text class="b" x="8" y="770">Durchschnitt</text>
<text class="b" x="8" y="786">13.01. 23:55</text>

<text class="b" x="95" y="721">Temp. A.</text>
<text class="b" x="198" y="721" text-anchor="end">°C</text>
<text x="100" y="737">01:30</text><text x="198" y="737" text-anchor="end">5.3</text>
<text x="100" y="754">13:15</text><text x="198" y="754" text-anchor="end">7.4</text>
<text x="100" y="770">(+ 4.94 )</text><text x="198" y="770" text-anchor="end">6.34</text>
<text x="97" y="786">F: 90 %</text><text class="b" x="198" y="786" text-anchor="end">5.4</text>

<text class="b" x="213" y="721">Feuchte A.</text>
<text class="b" x="316" y="721" text-anchor="end">%</text>
<text x="219" y="737">23:55</text><text x="316" y="737" text-anchor="end">90</text>
<text x="219" y="754">17:15</text><text x="316" y="754" text-anchor="end">97</text>
<text x="316" y="770" text-anchor="end">96</text>
<text x="216" y="786">6.28 g/m³</text><text class="b" x="316" y="786" text-anchor="end">90</text>

<text class="b" x="331" y="721">Luftdruck</text>
<text class="b" x="434" y="721" text-anchor="end">hPa</text>
<text x="337" y="737">18:55</text><text x="434" y="737" text-anchor="end">999.6</text>
<text x="337" y="754">00:05</text><text x="434" y="754" text-anchor="end">1012.0</text>
<text x="331" y="770">^1.5hPa/h</text><text x="434" y="770" text-anchor="end">1005.2</text>
<text x="331" y="786">veränderlich</text><text class="b" x="388" y="786" fill="#e07000">↑</text><text class="b" x="434" y="786" text-anchor="end">1002.5</text>

<text class="b" x="449" y="721">Wind</text>
<text class="b" x="552" y="721" text-anchor="end">km/h</text>
<text x="449" y="737">Ø 10 min.</text><text x="552" y="737" text-anchor="end">12.0</text>
<text x="455" y="754">19:15</text><text x="552" y="754" text-anchor="end">W 18.8</text>
<text x="455" y="770">628.8 km</text><text x="552" y="770" text-anchor="end">10.4</text>
<text x="455" y="786">2 Bft NW</text><text class="b" x="552" y="786" text-anchor="end">10.4</text>

<text class="b" x="567" y="721">Richtung</text>
<text x="573" y="737">23:50</text><text x="669" y="737" text-anchor="end">N</text>
<text x="573" y="754">19:05</text><text x="669" y="754" text-anchor="end">N</text>
<text x="669" y="770" text-anchor="end">W</text>
<text x="570" y="786">320 °</text><text class="b" x="669" y="786" text-anchor="end">NW</text>

<text class="b" x="684" y="721">Regen</text>
<text class="b" x="788" y="721" text-anchor="end">l/m²</text>
<text x="684" y="737">4:55 h</text>
<text x="688" y="754">19:05</text><text x="788" y="754" text-anchor="end">0.6</text>
<text x="684" y="770">Gesamt:</text><text x="788" y="770" text-anchor="end">12.6</text>
<text x="688" y="786">12.6 l/m²</text><text class="b" x="788" y="786" text-anchor="end">0.0</text>

<text x="803" y="721">Max. Sonnen</text><text x="908" y="721" text-anchor="end">17,128°</text>
<text x="803" y="737">Sonnen Pos</text><text x="908" y="737" text-anchor="end">-58,855°</text>
<text x="803" y="754">Neumond</text><text x="908" y="754" text-anchor="end">04.02.19</text>
<text x="803" y="770">Vollmond</text><text x="908" y="770" text-anchor="end">21.01.19</text>
<text x="803" y="786">Mondphase</text><text x="908" y="786" text-anchor="end">+ 47%</text>

<text x="921" y="721">Wolkenunterg</text><text x="1021" y="721" text-anchor="end">232m</text>
<text x="921" y="737">Sichtweite</text><text x="1021" y="737" text-anchor="end">6-12km</text>
<text x="921" y="754">Schneefallgr</text><text x="1021" y="754" text-anchor="end">850m</text>
<text x="921" y="770">Regen/1h</text><text x="1021" y="770" text-anchor="end">0.0l/m²</text>
<text x="921" y="786">Sonnenschein</text><text x="1021" y="786" text-anchor="end">0:00h</text>
</g>
</svg>
</body></html>
